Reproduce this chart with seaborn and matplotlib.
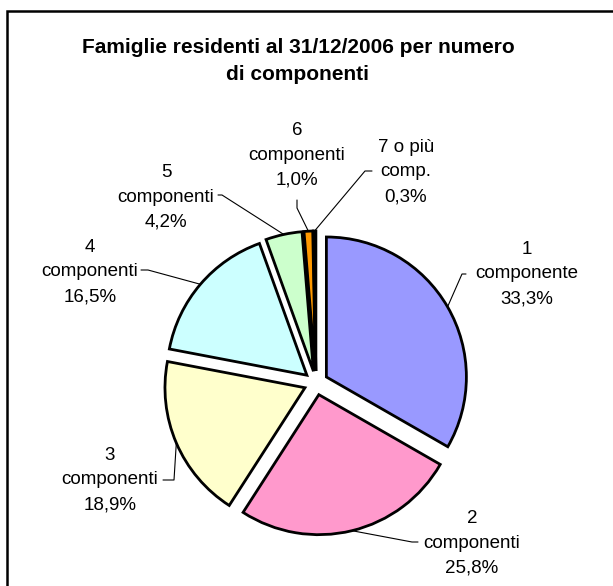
import matplotlib
matplotlib.use("Agg")
import matplotlib.pyplot as plt
import seaborn as sns
from matplotlib.patches import Rectangle
import numpy as np

sns.set_theme(style="white")
plt.rcParams['font.family'] = ['Liberation Sans', 'DejaVu Sans']

# ---- data ----
categories = ["1\ncomponente", "2\ncomponenti", "3\ncomponenti", "4\ncomponenti",
              "5\ncomponenti", "6\ncomponenti", "7 o più\ncomp."]
values = [33.3, 25.8, 18.9, 16.5, 4.2, 1.0, 0.3]
colors = ["#9999FF", "#FF99CC", "#FFFFCC", "#CCFFFF", "#CCFFCC", "#FF9900", "#1A1A1A"]
title = "Famiglie residenti al 31/12/2006 per numero\ndi componenti"

# ---- layout (pixel coordinates, y measured from top) ----
W, H = 613, 586
pie_center_px = (316, 383)
pie_radius = 140
explode_dist = 12
label_pos_px = [(527, 274), (472, 543), (110, 480), (90, 272), (166, 197), (297, 155), (406, 172)]
elbow_px = [(462, 274), (412, 542), (174, 480), (148, 270), (222, 195), (297, 208), (365, 171)]
end_px = [(466, 274), (418, 542), (163, 480), (141, 270), (218, 195), (297, 200), (372, 171)]


def py(y):
    return H - y


fig = plt.figure(figsize=(W / 100, H / 100), dpi=100)
ax = fig.add_axes([0, 0, 1, 1])

wedges, _ = ax.pie(values, colors=colors, startangle=90, counterclock=False,
                   explode=[explode_dist] * len(values), radius=pie_radius,
                   center=(pie_center_px[0], py(pie_center_px[1])),
                   wedgeprops=dict(edgecolor="black", linewidth=2))

ax.set_xlim(0, W)
ax.set_ylim(0, H)
ax.set_aspect("equal")
ax.axis("off")

for w, cat, v, lp, el, en in zip(wedges, categories, values, label_pos_px, elbow_px, end_px):
    mid = np.deg2rad((w.theta1 + w.theta2) / 2)
    cx, cy = w.center
    ax_pt = (cx + w.r * np.cos(mid), cy + w.r * np.sin(mid))
    ax.plot([ax_pt[0], el[0], en[0]], [ax_pt[1], py(el[1]), py(en[1])],
            color="black", lw=0.8, zorder=5)
    pct = f"{v:.1f}%".replace(".", ",")
    ax.text(lp[0], py(lp[1]), f"{cat}\n{pct}", ha="center", va="center", fontsize=13.5,
            linespacing=1.6, color="black")

ax.text(298, py(61), title, ha="center", va="center", fontsize=15,
        fontweight="bold", linespacing=1.5, color="black")

# chart border
fig.patches.append(Rectangle((7 / W, -0.2), 1.2, 1.2 - 11 / H, transform=fig.transFigure,
                             fill=False, edgecolor="black", linewidth=1.8))

fig.savefig("out.png", dpi=100)
